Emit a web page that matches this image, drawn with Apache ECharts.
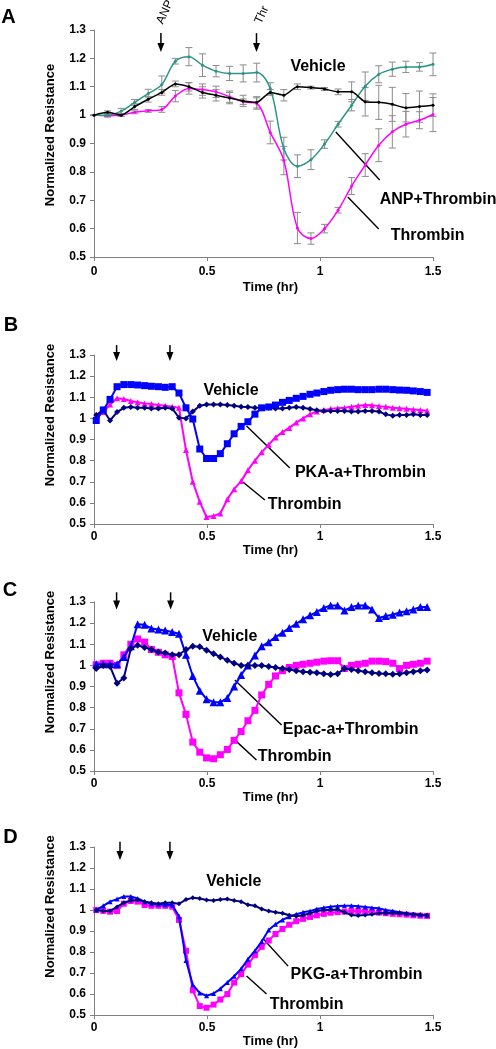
<!DOCTYPE html>
<html><head><meta charset="utf-8">
<script src="https://cdn.jsdelivr.net/npm/echarts@6/dist/echarts.min.js"></script>
<style>html,body{margin:0;padding:0;background:#fff}#c{width:496px;height:1049px}</style>
</head><body><div id="c"></div>
<script>
// ---------- DATA ----------
const timeA = [0,0.06,0.12,0.18,0.24,0.3,0.36,0.42,0.48,0.54,0.6,0.66,0.72,0.78,0.84,0.9,0.96,1.02,1.08,1.14,1.2,1.26,1.32,1.38,1.44,1.5];
const vehicleA = [1.0,1.01,1.0,1.03,1.056,1.08,1.11,1.1,1.08,1.07,1.06,1.05,1.045,1.08,1.07,1.1,1.097,1.092,1.082,1.082,1.047,1.045,1.038,1.026,1.03,1.035];
const anpThrA  = [1.0,1.0,1.014,1.045,1.076,1.108,1.19,1.206,1.176,1.155,1.147,1.147,1.15,1.094,0.882,0.82,0.843,0.898,0.968,1.035,1.102,1.144,1.162,1.17,1.17,1.179];
const thrombinA = [1.0,0.998,1.0,1.01,1.015,1.02,1.067,1.094,1.09,1.082,1.065,1.047,1.041,0.939,0.84,0.602,0.565,0.6,0.665,0.75,0.824,0.894,0.941,0.968,0.982,1.002];
const errVehicleA = [0,0.005,0.005,0.01,0.01,0.01,0.01,0.015,0.02,0.02,0.02,0.02,0.02,0.01,0.02,0.01,0.005,0.005,0.01,0.035,0.05,0.06,0.06,0.05,0.055,0.04];
const errAnpThrA  = [0,0.005,0.01,0.01,0.015,0.03,0.01,0.032,0.04,0.02,0.025,0.03,0.033,0.02,0.04,0.04,0.035,0.015,0.01,0.02,0.05,0.03,0.025,0.02,0.015,0.04];
const errThrombinA = [0,0.005,0.005,0.005,0.005,0.01,0.02,0.02,0.02,0.02,0.02,0.01,0.02,0.04,0.05,0.055,0.02,0.015,0.01,0.03,0.04,0.058,0.057,0.045,0.03,0.06];

const timeBCD = [0.010,0.041,0.071,0.102,0.132,0.163,0.193,0.224,0.254,0.285,0.315,0.346,0.376,0.407,0.437,0.468,0.498,0.529,0.559,0.590,0.620,0.651,0.681,0.712,0.742,0.773,0.803,0.834,0.864,0.895,0.925,0.956,0.986,1.017,1.047,1.078,1.108,1.139,1.169,1.200,1.230,1.261,1.291,1.322,1.352,1.383,1.413,1.444,1.474];

const vehicleB = [1.016,1.04,0.99,1.03,1.05,1.054,1.05,1.05,1.047,1.047,1.05,1.047,1.003,1.0,1.032,1.06,1.066,1.066,1.066,1.063,1.06,1.055,1.054,1.05,1.05,1.05,1.047,1.047,1.05,1.054,1.05,1.044,1.038,1.035,1.035,1.035,1.035,1.032,1.032,1.035,1.035,1.032,1.019,1.013,1.016,1.016,1.019,1.016,1.016];
const pkaB = [0.99,1.04,1.09,1.15,1.16,1.16,1.158,1.155,1.152,1.15,1.147,1.15,1.12,1.05,0.997,0.855,0.81,0.81,0.833,0.88,0.927,0.962,0.984,1.02,1.05,1.054,1.063,1.076,1.085,1.095,1.104,1.114,1.12,1.127,1.133,1.136,1.138,1.138,1.136,1.136,1.136,1.138,1.138,1.136,1.134,1.133,1.13,1.127,1.123];
const thrombinB = [1.016,1.03,1.066,1.095,1.092,1.082,1.076,1.071,1.068,1.063,1.06,1.055,1.05,0.85,0.70,0.605,0.533,0.538,0.55,0.617,0.665,0.703,0.755,0.80,0.84,0.875,0.91,0.935,0.955,0.98,1.0,1.02,1.033,1.04,1.045,1.048,1.05,1.055,1.06,1.063,1.062,1.058,1.055,1.05,1.048,1.045,1.042,1.04,1.036];

const vehicleC = [0.985,1.0,0.995,0.915,0.94,1.08,1.095,1.085,1.075,1.063,1.058,1.05,1.05,1.075,1.09,1.088,1.072,1.055,1.04,1.024,1.01,1.0,1.0,1.0,1.0,0.995,0.99,0.985,0.98,0.975,0.97,0.968,0.965,0.96,0.957,0.96,0.985,0.98,0.975,0.97,0.965,0.962,0.96,0.958,0.96,0.965,0.97,0.975,0.978];
const epacC = [1.005,1.005,1.005,1.005,1.04,1.09,1.195,1.192,1.175,1.17,1.165,1.158,1.15,1.05,0.95,0.88,0.84,0.826,0.826,0.845,0.9,0.955,1.0,1.047,1.09,1.11,1.134,1.155,1.177,1.197,1.218,1.237,1.253,1.272,1.284,1.284,1.26,1.276,1.284,1.284,1.265,1.224,1.234,1.24,1.25,1.256,1.265,1.276,1.276];
const thrombinC = [1.003,1.01,1.01,1.0,1.05,1.1,1.125,1.11,1.075,1.062,1.05,1.042,0.87,0.768,0.637,0.589,0.562,0.558,0.577,0.602,0.645,0.687,0.738,0.787,0.86,0.91,0.95,0.975,0.99,1.0,1.005,1.01,1.015,1.02,1.022,1.022,0.985,1.0,1.005,1.01,1.02,1.02,1.018,1.01,0.985,1.0,1.005,1.01,1.02];

const vehicleD = [1.0,0.995,0.995,1.015,1.035,1.045,1.048,1.04,1.035,1.03,1.035,1.035,1.03,1.05,1.058,1.055,1.048,1.045,1.05,1.052,1.045,1.04,1.025,1.02,1.005,0.995,0.99,0.985,0.975,0.97,0.975,0.985,0.995,1.0,1.0,1.002,0.99,0.976,0.974,0.976,0.98,0.985,0.985,0.986,0.985,0.982,0.98,0.977,0.975];
const pkgD = [1.0,1.02,1.04,1.052,1.065,1.065,1.055,1.04,1.03,1.028,1.025,1.024,0.97,0.76,0.645,0.605,0.592,0.603,0.625,0.655,0.685,0.72,0.766,0.806,0.85,0.905,0.932,0.953,0.968,0.98,0.989,0.995,1.005,1.011,1.016,1.019,1.02,1.02,1.018,1.015,1.011,1.008,1.0,0.995,0.99,0.985,0.98,0.977,0.975];
const thrombinD = [1.0,0.996,0.992,0.995,1.03,1.043,1.04,1.024,1.02,1.02,1.02,1.016,0.953,0.806,0.618,0.543,0.535,0.55,0.574,0.6,0.655,0.695,0.74,0.785,0.825,0.855,0.886,0.91,0.93,0.947,0.958,0.967,0.975,0.982,0.987,0.99,0.992,0.995,0.995,0.993,0.99,0.988,0.985,0.982,0.98,0.978,0.975,0.973,0.972];

const panelLetters = ['A','B','C','D'];
const seriesNames = {
  A: ['Vehicle','ANP+Thrombin','Thrombin'],
  B: ['Vehicle','PKA-a+Thrombin','Thrombin'],
  C: ['Vehicle','Epac-a+Thrombin','Thrombin'],
  D: ['Vehicle','PKG-a+Thrombin','Thrombin']
};

// ---------- LAYOUT / STYLE ----------
const FONT = '"Liberation Sans", Arial, Helvetica, sans-serif';
const panels = [
  {top:30,  height:227, nameGap:24, labelMargin:9, titleShift:17},
  {top:355, height:169, nameGap:19, labelMargin:7, titleShift:49},
  {top:602, height:169, nameGap:19, labelMargin:7, titleShift:49},
  {top:847, height:169, nameGap:19, labelMargin:7, titleShift:49}
];
const AXIS_GRAY = '#808080';
const TEAL = '#2a9488', MAGENTA = '#ff00ff', BLUE = '#0000ff', NAVY = '#000080';

const chart = echarts.init(document.getElementById('c'), null, {renderer:'canvas'});

const grids = panels.map(p => ({left:94, width:339, top:p.top, height:p.height}));
const xAxes = panels.map((p,i) => ({
  type:'value', gridIndex:i, min:0, max:1.5, interval:0.5,
  axisLine:{show:true, lineStyle:{color:AXIS_GRAY, width:1}},
  axisTick:{show:true, length:4, lineStyle:{color:AXIS_GRAY}},
  splitLine:{show:false},
  axisLabel:{color:'#000', fontFamily:FONT, fontWeight:'bold', fontSize:12, margin:p.labelMargin},
  name:'Time (hr)', nameLocation:'middle', nameGap:p.nameGap,
  nameTextStyle:{color:'#000', fontFamily:FONT, fontWeight:'bold', fontSize:13, padding:[0,0,0,14]}
}));
const yAxes = panels.map((p,i) => ({
  type:'value', gridIndex:i, min:0.5, max:1.3, interval:0.1,
  axisLine:{show:true, lineStyle:{color:AXIS_GRAY, width:1}},
  axisTick:{show:true, length:4, lineStyle:{color:AXIS_GRAY}},
  splitLine:{show:false},
  axisLabel:{color:'#000', fontFamily:FONT, fontWeight:'bold', fontSize:12, margin:8,
    formatter: v => String(+v.toFixed(1))},
  name:'Normalized Resistance', nameLocation:'middle', nameGap:37, nameRotate:90,
  nameTextStyle:{color:'#000', fontFamily:FONT, fontWeight:'bold', fontSize:13, padding:[0,0,0,p.titleShift]}
}));

function pts(t, v){ return t.map((x,i) => [x, v[i]]); }
function lineS(g, name, t, v, color, symbol, size, width, smooth, z){
  return {type:'line', name, xAxisIndex:g, yAxisIndex:g, data:pts(t,v), smooth:smooth,
    symbol, symbolSize:size, showSymbol:true, z:z||2,
    lineStyle:{color, width}, itemStyle:{color, borderWidth:0}, emphasis:{disabled:true}};
}
function errS(g, t, v, e){
  return {type:'custom', xAxisIndex:g, yAxisIndex:g, silent:true, z:1,
    data: t.map((x,i) => [x, v[i]-e[i], v[i]+e[i]]),
    encode:{x:0, y:[1,2]},
    renderItem: function(params, api){
      const x = api.value(0);
      const lo = api.coord([x, api.value(1)]), hi = api.coord([x, api.value(2)]);
      const w = 3.5, st = {stroke:'#8c8c8c', lineWidth:1};
      return {type:'group', children:[
        {type:'line', shape:{x1:lo[0],y1:lo[1],x2:hi[0],y2:hi[1]}, style:st},
        {type:'line', shape:{x1:lo[0]-w,y1:lo[1],x2:lo[0]+w,y2:lo[1]}, style:st},
        {type:'line', shape:{x1:hi[0]-w,y1:hi[1],x2:hi[0]+w,y2:hi[1]}, style:st}
      ]};
    }};
}

const series = [
  errS(0, timeA, vehicleA, errVehicleA),
  errS(0, timeA, anpThrA, errAnpThrA),
  errS(0, timeA, thrombinA, errThrombinA),
  lineS(0, seriesNames.A[2], timeA, thrombinA, MAGENTA, 'circle', 3, 1.5, 0.35, 3),
  lineS(0, seriesNames.A[1], timeA, anpThrA, TEAL, 'circle', 3, 1.5, 0.35, 3),
  lineS(0, seriesNames.A[0], timeA, vehicleA, '#000', 'circle', 3, 1.5, 0.2, 4),

  lineS(1, seriesNames.B[2], timeBCD, thrombinB, MAGENTA, 'triangle', 6, 2, false, 2),
  lineS(1, seriesNames.B[0], timeBCD, vehicleB, NAVY, 'diamond', 6, 2, false, 3),
  lineS(1, seriesNames.B[1], timeBCD, pkaB, BLUE, 'rect', 7, 2, false, 4),

  lineS(2, seriesNames.C[2], timeBCD, thrombinC, MAGENTA, 'rect', 7, 2, false, 2),
  lineS(2, seriesNames.C[1], timeBCD, epacC, BLUE, 'triangle', 8, 2, false, 3),
  lineS(2, seriesNames.C[0], timeBCD, vehicleC, NAVY, 'diamond', 7, 2, false, 4),

  lineS(3, seriesNames.D[2], timeBCD, thrombinD, MAGENTA, 'rect', 6, 2, false, 2),
  lineS(3, seriesNames.D[1], timeBCD, pkgD, BLUE, 'triangle', 5, 2, false, 3),
  lineS(3, seriesNames.D[0], timeBCD, vehicleD, NAVY, 'diamond', 5, 2, false, 4)
];

chart.setOption({
  animation:false, backgroundColor:'#fff',
  grid:grids, xAxis:xAxes, yAxis:yAxes, series
});

// ---------- ANNOTATIONS (in data coordinates) ----------
const textNotes = [
  {g:0, text:seriesNames.A[0], at:[0.991,1.170], align:'center'},
  {g:0, text:seriesNames.A[1], at:[1.264,0.704], align:'left'},
  {g:0, text:seriesNames.A[2], at:[1.313,0.574], align:'left'},
  {g:1, text:seriesNames.B[0], at:[0.606,1.130], align:'center'},
  {g:1, text:seriesNames.B[1], at:[0.889,0.741], align:'left'},
  {g:1, text:seriesNames.B[2], at:[0.769,0.590], align:'left'},
  {g:2, text:seriesNames.C[0], at:[0.601,1.134], align:'center'},
  {g:2, text:seriesNames.C[1], at:[0.8355,0.694], align:'left'},
  {g:2, text:seriesNames.C[2], at:[0.725,0.566], align:'left'},
  {g:3, text:seriesNames.D[0], at:[0.619,1.136], align:'center'},
  {g:3, text:seriesNames.D[1], at:[0.8696,0.694], align:'left'},
  {g:3, text:seriesNames.D[2], at:[0.778,0.552], align:'left'}
];
const pointers = [
  {g:0, from:[1.070,0.9405], to:[1.264,0.7714]},
  {g:0, from:[1.123,0.7115], to:[1.260,0.5987]},
  {g:1, from:[0.675,0.964], to:[0.8665,0.765]},
  {g:1, from:[0.659,0.699], to:[0.756,0.614]},
  {g:2, from:[0.623,0.931], to:[0.830,0.718]},
  {g:2, from:[0.631,0.639], to:[0.719,0.552]},
  {g:3, from:[0.7485,0.863], to:[0.859,0.733]},
  {g:3, from:[0.675,0.686], to:[0.7635,0.600]}
];
const arrows = [
  {g:0, t:0.296, y1:1.289, y2:1.2225}, {g:0, t:0.719, y1:1.289, y2:1.2225},
  {g:1, t:0.100, y1:1.347, y2:1.272}, {g:1, t:0.336, y1:1.347, y2:1.272},
  {g:2, t:0.100, y1:1.346, y2:1.264}, {g:2, t:0.339, y1:1.346, y2:1.264},
  {g:3, t:0.115, y1:1.325, y2:1.238}, {g:3, t:0.336, y1:1.325, y2:1.238}
];
const rotNotes = [
  {g:0, text:'ANP', at:[0.314,1.363]},
  {g:0, text:'Thr', at:[0.743,1.353]}
];
const letterPos = [[8.5,17.5],[11,325],[10,590],[10.5,837]];

const px = (g, p) => chart.convertToPixel({gridIndex:g}, p);
const gfx = [];
textNotes.forEach(n => {
  const p = px(n.g, n.at);
  gfx.push({type:'text', x:p[0], y:p[1], silent:true, style:{text:n.text, fill:'#000',
    font:'bold 16px ' + FONT, align:n.align, textAlign:n.align, verticalAlign:'middle', textVerticalAlign:'middle'}});
});
pointers.forEach(n => {
  const a = px(n.g, n.from), b = px(n.g, n.to);
  gfx.push({type:'line', silent:true, shape:{x1:a[0],y1:a[1],x2:b[0],y2:b[1]}, style:{stroke:'#000', lineWidth:1.4}});
});
arrows.forEach(n => {
  const a = px(n.g, [n.t, n.y1]), b = px(n.g, [n.t, n.y2]);
  const hl = 9, hw = 3.5;
  gfx.push({type:'line', silent:true, shape:{x1:a[0],y1:a[1],x2:b[0],y2:b[1]-hl+1}, style:{stroke:'#000', lineWidth:1.5}});
  gfx.push({type:'polygon', silent:true, shape:{points:[[b[0]-hw,b[1]-hl],[b[0]+hw,b[1]-hl],[b[0],b[1]]]}, style:{fill:'#000'}});
});
rotNotes.forEach(n => {
  const p = px(n.g, n.at);
  gfx.push({type:'text', x:p[0], y:p[1], rotation:65*Math.PI/180, silent:true, style:{text:n.text, fill:'#000',
    font:'12px ' + FONT, align:'center', textAlign:'center', verticalAlign:'middle', textVerticalAlign:'middle'}});
});
panelLetters.forEach((L,i) => {
  gfx.push({type:'text', x:letterPos[i][0], y:letterPos[i][1], silent:true, style:{text:L, fill:'#000',
    font:'bold 20px ' + FONT, align:'center', textAlign:'center', verticalAlign:'middle', textVerticalAlign:'middle'}});
});
chart.setOption({graphic:{elements:gfx}});
</script></body></html>
